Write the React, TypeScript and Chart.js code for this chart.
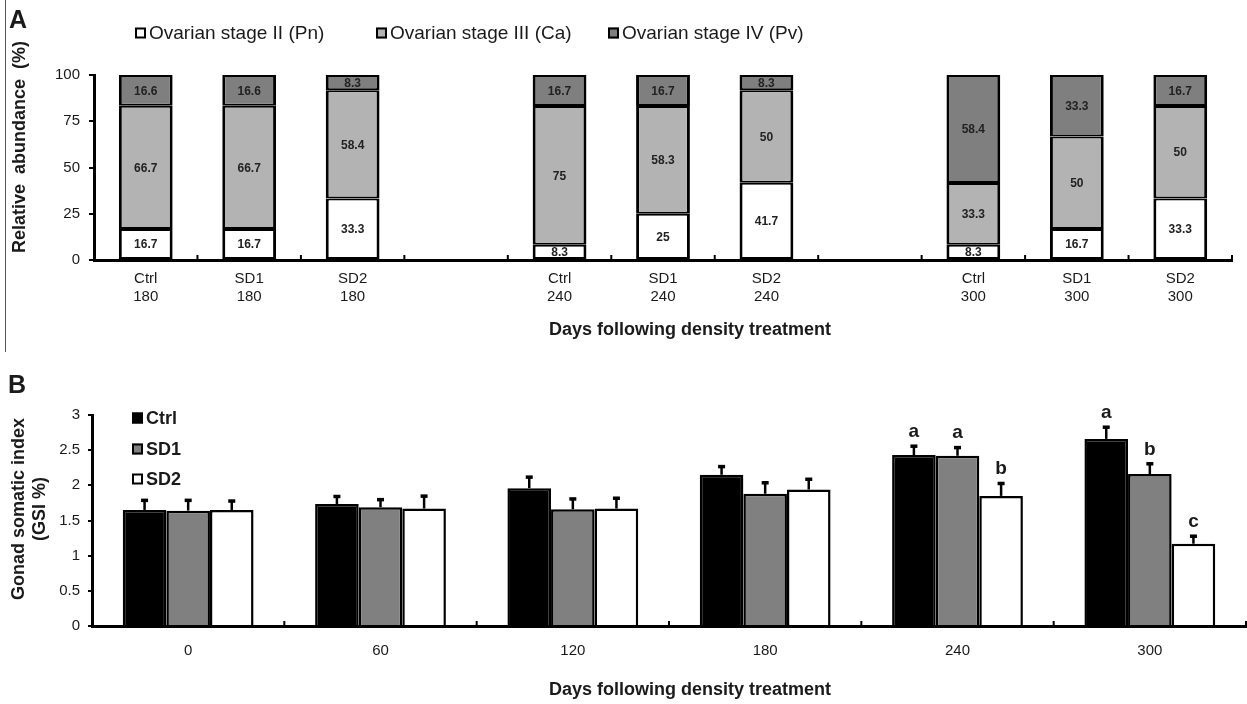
import React, { useEffect, useRef } from 'react';
import { Chart, registerables } from 'chart.js';

Chart.register(...registerables);

const FONT = '"Liberation Sans", Arial, Helvetica, sans-serif';
const INK = '#1a1a1a';

// ---------- Panel A : ovarian stage composition ----------
const stageCategories: (string | string[])[] = [
  ['Ctrl', '180'], ['SD1', '180'], ['SD2', '180'], '',
  ['Ctrl', '240'], ['SD1', '240'], ['SD2', '240'], '',
  ['Ctrl', '300'], ['SD1', '300'], ['SD2', '300'],
];
const stageNames = ['Ovarian stage II (Pn)', 'Ovarian stage III (Ca)', 'Ovarian stage IV (Pv)'];
const stageII = [16.7, 16.7, 33.3, null, 8.3, 25, 41.7, null, 8.3, 16.7, 33.3];
const stageIII = [66.7, 66.7, 58.4, null, 75, 58.3, 50, null, 33.3, 50, 50];
const stageIV = [16.6, 16.6, 8.3, null, 16.7, 16.7, 8.3, null, 58.4, 33.3, 16.7];
const stageColors = ['#ffffff', '#b3b3b3', '#7f7f7f'];

// ---------- Panel B : gonad somatic index ----------
const gsiDays = ['0', '60', '120', '180', '240', '300'];
const gsiNames = ['Ctrl', 'SD1', 'SD2'];
const gsiCtrl = [1.65, 1.735, 1.96, 2.15, 2.43, 2.66];
const gsiCtrlErr = [0.14, 0.11, 0.16, 0.12, 0.13, 0.17];
const gsiSD1 = [1.64, 1.69, 1.66, 1.88, 2.42, 2.16];
const gsiSD1Err = [0.15, 0.11, 0.15, 0.16, 0.12, 0.15];
const gsiSD2 = [1.65, 1.67, 1.67, 1.94, 1.85, 1.17];
const gsiSD2Err = [0.13, 0.18, 0.15, 0.15, 0.18, 0.11];
const gsiCtrlLetters = ['', '', '', '', 'a', 'a'];
const gsiSD1Letters = ['', '', '', '', 'a', 'b'];
const gsiSD2Letters = ['', '', '', '', 'b', 'c'];
const gsiColors = ['#000000', '#808080', '#ffffff'];

const W = 1247;
const H_A = 352;
const H_B = 352;

function legendBox(ctx: CanvasRenderingContext2D, x: number, yc: number, size: number, fill: string) {
  ctx.fillStyle = fill;
  ctx.fillRect(x, yc - size / 2, size, size);
  ctx.lineWidth = 2;
  ctx.strokeStyle = '#000';
  ctx.strokeRect(x + 1, yc - size / 2 + 1, size - 2, size - 2);
}

function boundaryTicks(chart: any) {
  const xs = chart.scales.x;
  const n = xs.getLabels().length;
  const { ctx } = chart;
  const bottom = chart.chartArea.bottom;
  ctx.save();
  ctx.strokeStyle = '#000';
  ctx.lineWidth = 2;
  for (let k = 1; k <= n; k++) {
    const x = xs.left + (k * (xs.right - xs.left)) / n;
    ctx.beginPath();
    ctx.moveTo(x, bottom);
    ctx.lineTo(x, bottom - 5);
    ctx.stroke();
  }
  ctx.restore();
}

const panelAPlugin = {
  id: 'panelADecor',
  afterDatasetsDraw(chart: any) {
    const { ctx } = chart;
    const sets = [stageII, stageIII, stageIV];
    ctx.save();
    ctx.font = `bold 12px ${FONT}`;
    ctx.fillStyle = '#222';
    ctx.textAlign = 'center';
    ctx.textBaseline = 'middle';
    sets.forEach((vals, d) => {
      const meta = chart.getDatasetMeta(d);
      meta.data.forEach((el: any, i: number) => {
        const v = vals[i];
        if (v == null) return;
        const { x, y, base } = el.getProps(['x', 'y', 'base'], true);
        ctx.fillText(String(v), x, (y + base) / 2 + 1);
      });
    });
    ctx.restore();
    boundaryTicks(chart);
  },
  afterDraw(chart: any) {
    const { ctx } = chart;
    ctx.save();
    ctx.strokeStyle = '#555';
    ctx.lineWidth = 1;
    ctx.beginPath();
    ctx.moveTo(5.5, 0);
    ctx.lineTo(5.5, H_A);
    ctx.stroke();
    ctx.fillStyle = INK;
    ctx.font = `bold 25px ${FONT}`;
    ctx.textAlign = 'left';
    ctx.textBaseline = 'alphabetic';
    ctx.fillText('A', 9, 28);
    ctx.save();
    ctx.translate(20, 147);
    ctx.rotate(-Math.PI / 2);
    ctx.font = `bold 18px ${FONT}`;
    ctx.textAlign = 'center';
    ctx.textBaseline = 'middle';
    ctx.fillText('Relative  abundance  (%)', 0, 0);
    ctx.restore();
    ctx.font = `bold 18px ${FONT}`;
    ctx.textAlign = 'center';
    ctx.textBaseline = 'middle';
    ctx.fillText('Days following density treatment', 690, 330);
    const boxX = [135, 376, 608];
    ctx.font = `19px ${FONT}`;
    ctx.textAlign = 'left';
    stageNames.forEach((name, i) => {
      legendBox(ctx, boxX[i], 33, 11, stageColors[i]);
      ctx.fillStyle = INK;
      ctx.fillText(name, boxX[i] + 14, 34);
    });
    ctx.restore();
  },
};

const panelBPlugin = {
  id: 'panelBDecor',
  afterDatasetsDraw(chart: any) {
    const { ctx } = chart;
    const ys = chart.scales.y;
    const values = [gsiCtrl, gsiSD1, gsiSD2];
    const errs = [gsiCtrlErr, gsiSD1Err, gsiSD2Err];
    const letters = [gsiCtrlLetters, gsiSD1Letters, gsiSD2Letters];
    ctx.save();
    values.forEach((vals, d) => {
      const meta = chart.getDatasetMeta(d);
      meta.data.forEach((el: any, i: number) => {
        const { x, y } = el.getProps(['x', 'y'], true);
        const cap = ys.getPixelForValue(vals[i] + errs[d][i]);
        ctx.strokeStyle = '#000';
        ctx.lineWidth = 2.5;
        ctx.beginPath();
        ctx.moveTo(x, y);
        ctx.lineTo(x, cap);
        ctx.stroke();
        ctx.fillStyle = '#000';
        ctx.fillRect(x - 3.5, cap - 1.5, 7, 3.5);
        const t = letters[d][i];
        if (t) {
          ctx.font = `bold 19px ${FONT}`;
          ctx.textAlign = 'center';
          ctx.textBaseline = 'alphabetic';
          ctx.fillStyle = INK;
          ctx.fillText(t, x, cap - 9);
        }
      });
    });
    ctx.restore();
    boundaryTicks(chart);
  },
  afterDraw(chart: any) {
    const { ctx } = chart;
    ctx.save();
    ctx.fillStyle = INK;
    ctx.font = `bold 25px ${FONT}`;
    ctx.textAlign = 'left';
    ctx.textBaseline = 'alphabetic';
    ctx.fillText('B', 8, 41);
    ctx.save();
    ctx.translate(19, 157);
    ctx.rotate(-Math.PI / 2);
    ctx.font = `bold 18px ${FONT}`;
    ctx.textAlign = 'center';
    ctx.textBaseline = 'middle';
    ctx.fillText('Gonad somatic index', 0, 0);
    ctx.fillText('(GSI %)', 0, 21);
    ctx.restore();
    ctx.font = `bold 18px ${FONT}`;
    ctx.textAlign = 'center';
    ctx.textBaseline = 'middle';
    ctx.fillText('Days following density treatment', 690, 338);
    const rows = [66, 97, 127];
    ctx.font = `bold 18px ${FONT}`;
    ctx.textAlign = 'left';
    gsiNames.forEach((name, i) => {
      legendBox(ctx, 132, rows[i], 11, gsiColors[i]);
      ctx.fillStyle = INK;
      ctx.fillText(name, 146, rows[i] + 1);
    });
    ctx.restore();
  },
};

export default function App() {
  const refA = useRef<HTMLCanvasElement>(null);
  const refB = useRef<HTMLCanvasElement>(null);

  useEffect(() => {
    const stageSets = [stageII, stageIII, stageIV];
    const chartA = new Chart(refA.current as HTMLCanvasElement, {
      type: 'bar',
      data: {
        labels: stageCategories as any,
        datasets: stageSets.map((vals, i) => ({
          label: stageNames[i],
          data: vals as any,
          backgroundColor: stageColors[i],
          borderColor: '#000',
          borderWidth: { top: 2, bottom: 2, left: 3, right: 3 } as any,
          borderSkipped: false,
          barPercentage: 0.52,
          categoryPercentage: 1,
        })),
      },
      options: {
        responsive: false,
        animation: false,
        events: [],
        layout: { padding: { top: 75, right: 15, left: 0, bottom: 0 } },
        plugins: { legend: { display: false }, tooltip: { enabled: false }, title: { display: false } },
        scales: {
          x: {
            stacked: true,
            grid: { display: false, drawTicks: false },
            border: { display: true, color: '#000', width: 3 },
            ticks: { font: { family: FONT, size: 15 }, color: INK, padding: 10, autoSkip: false, maxRotation: 0 },
            afterFit: (s: any) => { s.height = H_A - 260; },
          },
          y: {
            stacked: true,
            min: 0,
            max: 100,
            ticks: { stepSize: 25, font: { family: FONT, size: 15 }, color: INK, padding: 9 },
            grid: { drawOnChartArea: false, drawTicks: true, tickLength: 5, color: '#000', lineWidth: 2 },
            border: { display: true, color: '#000', width: 3 },
            afterFit: (s: any) => { s.width = 94; },
          },
        },
      },
      plugins: [panelAPlugin],
    });

    const gsiSets = [gsiCtrl, gsiSD1, gsiSD2];
    const chartB = new Chart(refB.current as HTMLCanvasElement, {
      type: 'bar',
      data: {
        labels: gsiDays,
        datasets: gsiSets.map((vals, i) => ({
          label: gsiNames[i],
          data: vals,
          backgroundColor: gsiColors[i],
          borderColor: '#000',
          borderWidth: 2.5,
          barPercentage: 1,
          categoryPercentage: 0.68,
        })),
      },
      options: {
        responsive: false,
        animation: false,
        events: [],
        layout: { padding: { top: 63, right: 1, left: 0, bottom: 0 } },
        plugins: { legend: { display: false }, tooltip: { enabled: false }, title: { display: false } },
        scales: {
          x: {
            grid: { display: false, drawTicks: false },
            border: { display: true, color: '#000', width: 3 },
            ticks: { font: { family: FONT, size: 15 }, color: INK, padding: 16, autoSkip: false, maxRotation: 0 },
            afterFit: (s: any) => { s.height = H_B - 274; },
          },
          y: {
            min: 0,
            max: 3,
            ticks: {
              stepSize: 0.5,
              font: { family: FONT, size: 15 },
              color: INK,
              padding: 8,
              callback: (v: any) => String(Number(v)),
            },
            grid: { drawOnChartArea: false, drawTicks: true, tickLength: 4, color: '#000', lineWidth: 2 },
            border: { display: true, color: '#000', width: 3 },
            afterFit: (s: any) => { s.width = 92; },
          },
        },
      },
      plugins: [panelBPlugin],
    });

    return () => {
      chartA.destroy();
      chartB.destroy();
    };
  }, []);

  return (
    <div style={{ position: 'fixed', left: 0, top: 0, width: W, height: H_A + H_B, background: '#fff' }}>
      <canvas ref={refA} width={W} height={H_A} style={{ position: 'absolute', left: 0, top: 0 }} />
      <canvas ref={refB} width={W} height={H_B} style={{ position: 'absolute', left: 0, top: H_A }} />
    </div>
  );
}
